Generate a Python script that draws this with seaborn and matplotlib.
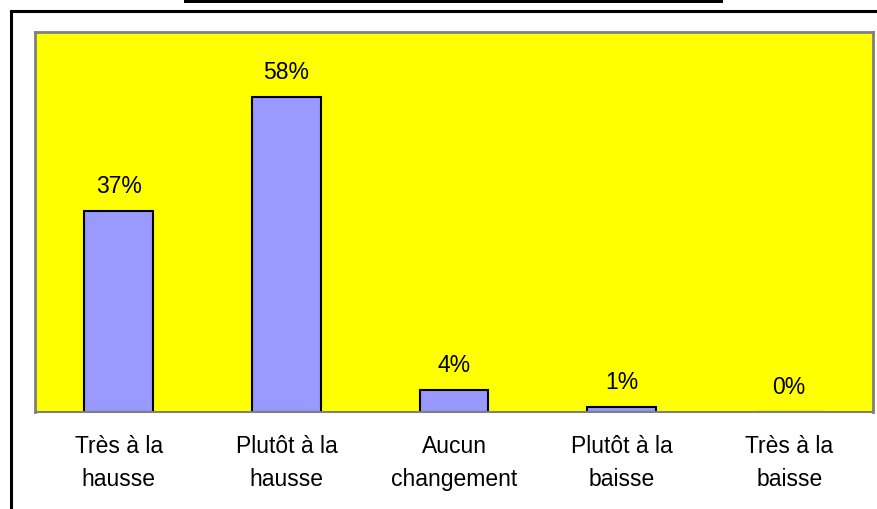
import matplotlib
matplotlib.use("Agg")
import matplotlib.pyplot as plt
import seaborn as sns
import pandas as pd
from matplotlib.patches import Rectangle

categories = ["Très à la\nhausse", "Plutôt à la\nhausse", "Aucun\nchangement",
              "Plutôt à la\nbaisse", "Très à la\nbaisse"]
values = [37, 58, 4, 1, 0]
value_labels = ["37%", "58%", "4%", "1%", "0%"]

df = pd.DataFrame({"categorie": categories, "valeur": values})

sns.set_style("white")
plt.rcParams["font.family"] = ["Liberation Sans", "DejaVu Sans"]
plt.rcParams["text.color"] = "black"
plt.rcParams["xtick.color"] = "black"

fig = plt.figure(figsize=(8.77, 5.10), dpi=100)
ax = fig.add_axes([35 / 877, 97 / 510, 838 / 877, 380 / 510])

sns.barplot(data=df, x="categorie", y="valeur", color="#9999FF",
            saturation=1, width=0.41, edgecolor="black", linewidth=1.5, ax=ax)

ax.set_facecolor("#FFFF00")
ax.set_ylim(0, 70)
ax.set_xlim(-0.5, 4.5)
ax.set_xlabel("")
ax.set_ylabel("")
ax.set_yticks([])

# étiquettes des valeurs
for i, (v, lab) in enumerate(zip(values, value_labels)):
    ax.annotate(lab, (i, v), xytext=(0, 10), textcoords="offset points",
                ha="center", va="bottom", fontsize=16.5, color="black")

# graduations entre les catégories
ax.set_xticks(range(len(categories)))
ax.set_xticklabels(categories, fontsize=16.5, linespacing=1.55, color="black")
ax.tick_params(axis="x", which="major", length=0, pad=16)
ax.set_xticks([i - 0.5 for i in range(len(categories) + 1)], minor=True)
ax.tick_params(axis="x", which="minor", length=6, width=1, color="#444444")

for s in ["left", "top", "right"]:
    ax.spines[s].set_visible(True)
    ax.spines[s].set_color("#808080")
    ax.spines[s].set_linewidth(2)
ax.spines["bottom"].set_color("#808080")
ax.spines["bottom"].set_linewidth(1.5)

# cadre extérieur et barre du titre
fig.patches.append(Rectangle((11 / 877, -0.05), 1.0, (510 - 12) / 510 + 0.05,
                             transform=fig.transFigure, fill=False,
                             edgecolor="black", linewidth=2.2))
fig.patches.append(Rectangle((184 / 877, 506 / 510), 539 / 877, 5 / 510,
                             transform=fig.transFigure, facecolor="black",
                             edgecolor="none"))

fig.savefig("out.png", dpi=100, facecolor="white")
